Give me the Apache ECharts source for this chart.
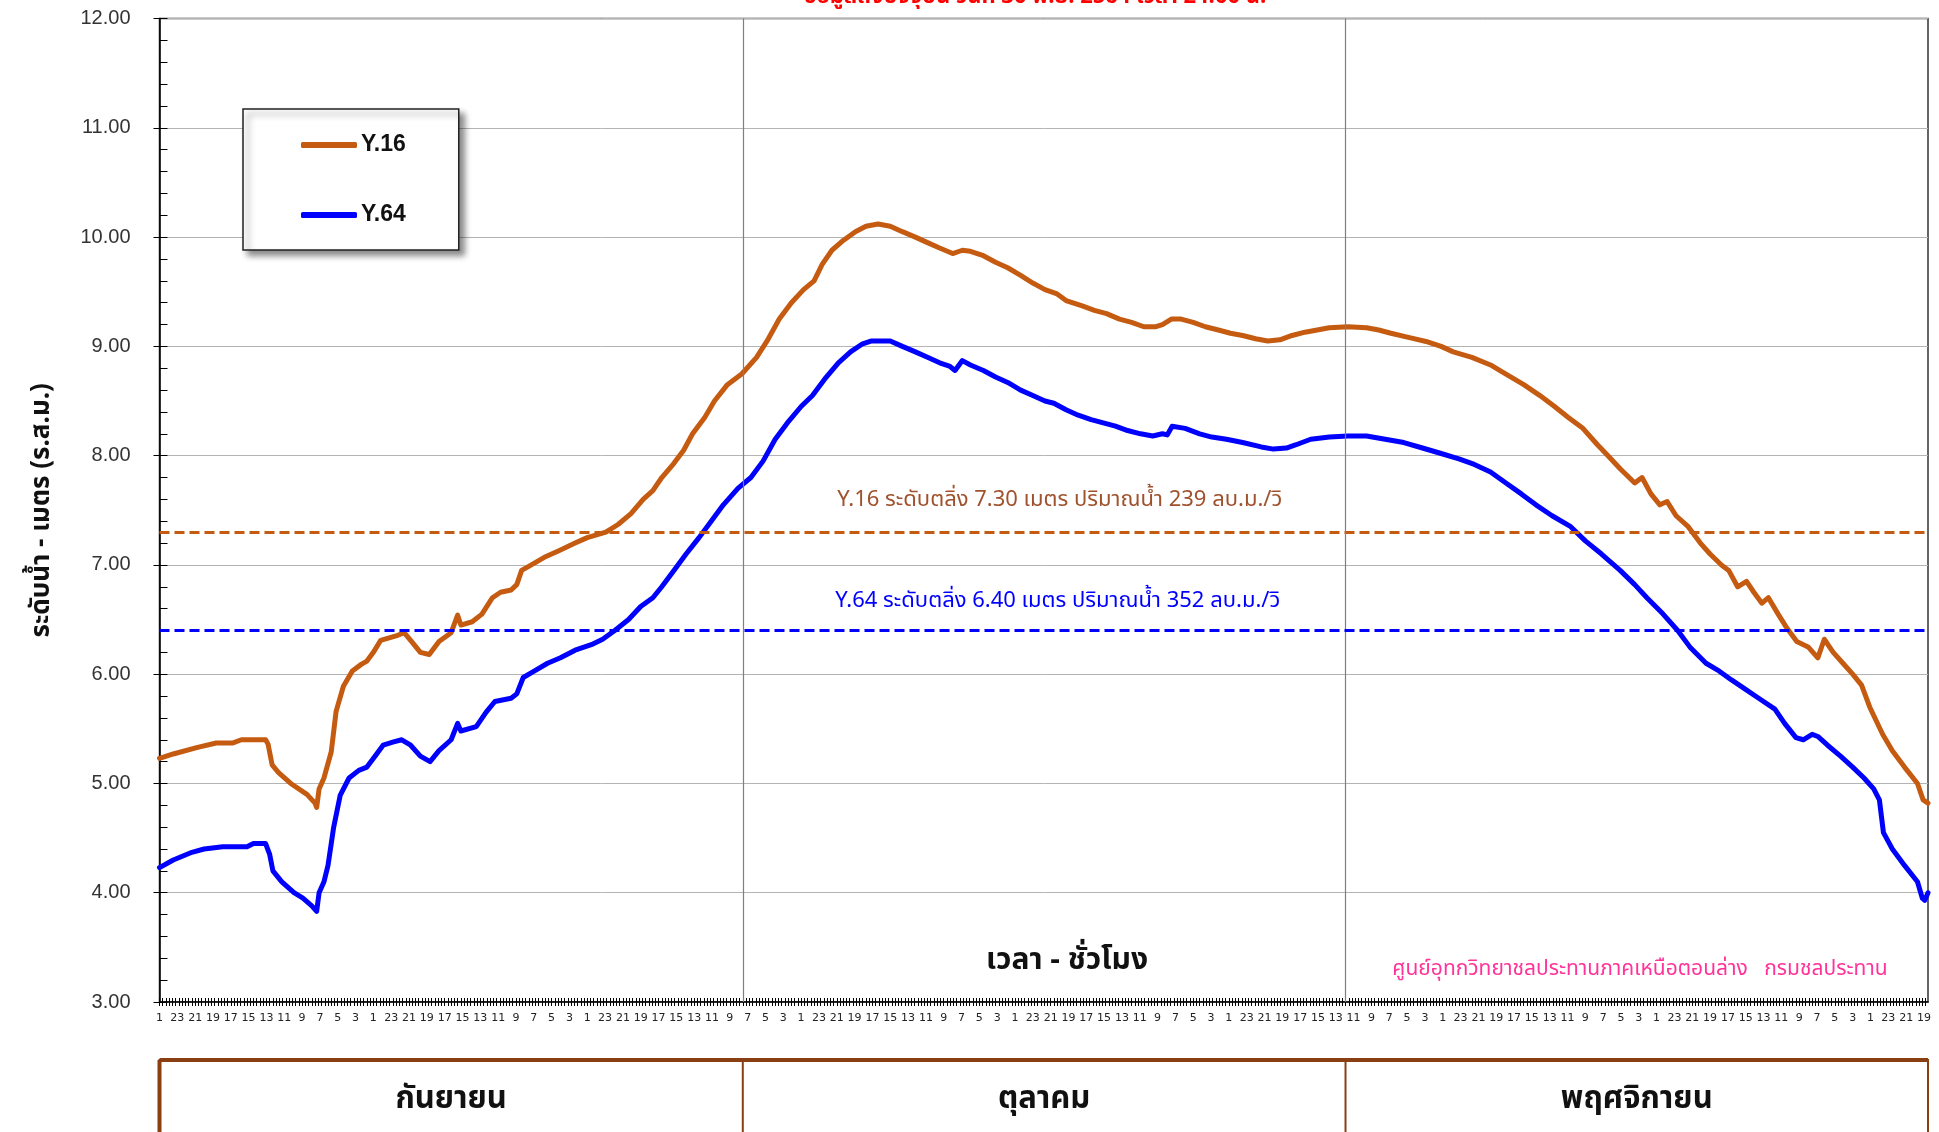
<!DOCTYPE html>
<html><head><meta charset="utf-8">
<script src="https://cdn.jsdelivr.net/npm/echarts@6/dist/echarts.min.js"></script>
<style>html,body{margin:0;padding:0;background:#fff}#c{width:1939px;height:1132px}</style>
</head><body><div id="c"></div>
<script>
// ---- data ----
const monthNames = ['กันยายน', 'ตุลาคม', 'พฤศจิกายน'];
const monthDays = [30, 31, 30];
const hoursPerDay = 24;
const yTicks = [3, 4, 5, 6, 7, 8, 9, 10, 11, 12];
// [hour index from 1 Sep 01:00, water level m (MSL)]
const y16 = [[0,5.23],[17,5.27],[47,5.33],[70,5.37],[90,5.37],[101,5.40],[116,5.40],[131,5.40],[134,5.36],[139,5.17],[147,5.10],[162,5.00],[182,4.90],[192,4.82],[194,4.78],[197,4.95],[203,5.05],[212,5.29],[218,5.66],[227,5.89],[238,6.03],[249,6.09],[256,6.12],[264,6.20],[273,6.31],[292,6.35],[302,6.38],[311,6.30],[322,6.20],[333,6.18],[345,6.30],[360,6.38],[368,6.54],[372,6.45],[386,6.48],[398,6.55],[411,6.70],[421,6.75],[434,6.77],[441,6.82],[447,6.95],[459,7.00],[475,7.07],[493,7.13],[513,7.20],[528,7.25],[551,7.30],[566,7.37],[582,7.47],[597,7.60],[609,7.68],[620,7.80],[635,7.93],[647,8.05],[658,8.20],[673,8.35],[685,8.50],[701,8.65],[719,8.75],[737,8.90],[750,9.05],[765,9.25],[780,9.40],[795,9.52],[808,9.60],[818,9.75],[830,9.88],[844,9.97],[859,10.05],[872,10.10],[887,10.12],[902,10.10],[917,10.05],[933,10.00],[948,9.95],[963,9.90],[979,9.85],[991,9.88],[1001,9.87],[1017,9.83],[1032,9.77],[1047,9.72],[1063,9.65],[1078,9.58],[1093,9.52],[1108,9.48],[1119,9.42],[1139,9.37],[1154,9.33],[1169,9.30],[1185,9.25],[1200,9.22],[1215,9.18],[1230,9.18],[1238,9.20],[1249,9.25],[1261,9.25],[1276,9.22],[1291,9.18],[1307,9.15],[1322,9.12],[1337,9.10],[1353,9.07],[1368,9.05],[1383,9.06],[1398,9.10],[1414,9.13],[1429,9.15],[1444,9.17],[1467,9.18],[1490,9.17],[1505,9.15],[1520,9.12],[1543,9.08],[1566,9.04],[1582,9.00],[1597,8.95],[1620,8.90],[1643,8.83],[1661,8.75],[1684,8.65],[1704,8.55],[1722,8.45],[1739,8.35],[1757,8.25],[1775,8.10],[1788,8.00],[1803,7.88],[1821,7.75],[1830,7.80],[1841,7.65],[1852,7.55],[1861,7.58],[1872,7.45],[1887,7.35],[1902,7.20],[1914,7.10],[1928,7.00],[1937,6.95],[1948,6.80],[1959,6.85],[1968,6.75],[1978,6.65],[1986,6.70],[1998,6.55],[2009,6.42],[2021,6.30],[2035,6.25],[2047,6.15],[2055,6.32],[2066,6.20],[2078,6.10],[2090,6.00],[2101,5.90],[2111,5.70],[2127,5.45],[2139,5.30],[2154,5.15],[2170,5.00],[2177,4.85],[2183,4.82]];
const y64 = [[0,4.23],[17,4.30],[40,4.37],[55,4.40],[78,4.42],[108,4.42],[116,4.45],[131,4.45],[136,4.35],[140,4.20],[151,4.10],[166,4.00],[177,3.95],[188,3.88],[194,3.83],[197,4.00],[203,4.10],[208,4.25],[215,4.60],[223,4.89],[234,5.05],[246,5.12],[256,5.15],[266,5.25],[276,5.35],[289,5.38],[299,5.40],[310,5.35],[322,5.25],[334,5.20],[345,5.30],[360,5.40],[368,5.55],[372,5.48],[391,5.52],[403,5.65],[414,5.75],[434,5.78],[441,5.82],[449,5.97],[463,6.03],[479,6.10],[495,6.15],[513,6.22],[533,6.27],[547,6.32],[562,6.40],[579,6.50],[594,6.62],[609,6.70],[620,6.80],[635,6.95],[650,7.10],[666,7.25],[681,7.40],[696,7.55],[714,7.70],[730,7.80],[745,7.95],[760,8.15],[775,8.30],[792,8.45],[806,8.55],[821,8.70],[838,8.85],[853,8.95],[867,9.02],[879,9.05],[902,9.05],[917,9.00],[933,8.95],[948,8.90],[963,8.85],[975,8.82],[982,8.78],[991,8.87],[1001,8.83],[1017,8.78],[1032,8.72],[1047,8.67],[1063,8.60],[1078,8.55],[1093,8.50],[1104,8.48],[1119,8.42],[1134,8.37],[1150,8.33],[1165,8.30],[1180,8.27],[1195,8.23],[1211,8.20],[1226,8.18],[1238,8.20],[1244,8.19],[1250,8.27],[1266,8.25],[1284,8.20],[1299,8.17],[1317,8.15],[1337,8.12],[1360,8.08],[1375,8.06],[1391,8.07],[1403,8.10],[1421,8.15],[1444,8.17],[1467,8.18],[1490,8.18],[1513,8.15],[1536,8.12],[1559,8.07],[1582,8.02],[1604,7.97],[1623,7.92],[1643,7.85],[1662,7.75],[1681,7.65],[1699,7.55],[1719,7.45],[1742,7.35],[1760,7.22],[1780,7.10],[1803,6.95],[1821,6.82],[1836,6.70],[1856,6.55],[1874,6.40],[1889,6.25],[1909,6.10],[1925,6.03],[1940,5.95],[1956,5.87],[1974,5.78],[1994,5.68],[2006,5.55],[2020,5.42],[2029,5.40],[2040,5.45],[2047,5.43],[2059,5.35],[2075,5.25],[2090,5.15],[2104,5.05],[2116,4.95],[2123,4.85],[2128,4.55],[2139,4.40],[2154,4.25],[2170,4.10],[2176,3.95],[2179,3.93],[2183,4.00]];
const stations = ['Y.16', 'Y.64'];
const bankLevels = [7.30, 6.40];
const bankFlows = [239, 352];
const titleText = 'ข้อมูลถึงปัจจุบัน วันที่ 30 พ.ย. 2564 เวลา 24.00 น.';
const xName = 'เวลา - ชั่วโมง';
const yName = 'ระดับน้ำ - เมตร (ร.ส.ม.)';
const credit = 'ศูนย์อุทกวิทยาชลประทานภาคเหนือตอนล่าง   กรมชลประทาน';

// hourly categories (hour of day 1..24)
const categories = [];
monthDays.forEach(d => { for (let day = 0; day < d; day++) for (let h = 1; h <= hoursPerDay; h++) categories.push(String(h)); });
const monthStart = [0]; monthDays.forEach((d, i) => monthStart.push(monthStart[i] + d * hoursPerDay));

const ORANGE = '#c55a11', BLUE = '#0000ff';
const thaiFont = 'Tahoma, "Noto Sans Thai", "Noto Sans Thai UI", "Liberation Sans", sans-serif';

const chart = echarts.init(document.getElementById('c'));
const gridL = 159.5, gridR = 11, gridT = 18.6, gridB = 130;
const option = {
  animation: false,
  backgroundColor: '#fff',
  grid: { left: gridL, right: gridR, top: gridT, bottom: gridB, show: true, borderColor: '#333', borderWidth: 1.5 },
  legend: {
    orient: 'vertical', left: 243, top: 109,
    data: stations,
    icon: 'roundRect', itemWidth: 56, itemHeight: 6, itemGap: 46,
    padding: [24, 53, 23, 58],
    backgroundColor: '#fff', borderColor: '#222', borderWidth: 1.5,
    shadowColor: 'rgba(0,0,0,0.45)', shadowBlur: 6, shadowOffsetX: 5, shadowOffsetY: 5,
    textStyle: { fontFamily: 'Liberation Sans, Arial, sans-serif', fontWeight: 'bold', fontSize: 23, lineHeight: 24, color: '#111', padding: [0, 0, 0, -1] }
  },
  xAxis: [{
    type: 'category', data: categories, boundaryGap: false,
    axisLine: { lineStyle: { color: '#000', width: 1.5 } },
    axisTick: { show: true, interval: 3, length: 4, lineStyle: { color: '#000' } },
    axisLabel: { interval: 21, fontSize: 11, color: '#222', margin: 11, fontFamily: 'Tahoma, "DejaVu Sans", sans-serif' },
    splitLine: { show: false }
  }, {
    type: 'category', data: categories, boundaryGap: false, position: 'bottom',
    axisLine: { show: false },
    axisTick: { show: true, inside: true, interval: 3, length: 4, lineStyle: { color: '#000' } },
    axisLabel: { show: false }, splitLine: { show: false }
  }],
  yAxis: [{
    type: 'value', min: yTicks[0], max: yTicks[yTicks.length - 1], interval: 1,
    axisLine: { show: true, lineStyle: { color: '#000', width: 1.5 } },
    axisTick: { show: true, length: 6, lineStyle: { color: '#000' } },
    axisLabel: { formatter: v => v.toFixed(2), fontSize: 20, color: '#333', margin: 29, fontFamily: 'Liberation Sans, Arial, sans-serif' },
    splitLine: { show: true, lineStyle: { color: '#b4b4b4', width: 1 } },
    name: yName, nameLocation: 'middle', nameRotate: 90, nameGap: 103,
    nameTextStyle: { fontSize: 26, fontWeight: 'bold', color: '#111', fontFamily: thaiFont }
  }, {
    type: 'value', min: yTicks[0], max: yTicks[yTicks.length - 1], interval: 0.2, position: 'left',
    axisLine: { show: false }, axisTick: { show: true, inside: true, length: 8, lineStyle: { color: '#000' } },
    axisLabel: { show: false }, splitLine: { show: false }
  }],
  series: [
    {
      name: stations[0], type: 'line', data: y16, showSymbol: false, symbol: 'none', color: ORANGE, z: 4,
      lineStyle: { color: ORANGE, width: 5, cap: 'round', join: 'round' },
      markLine: {
        silent: true, symbol: 'none', animation: false,
        data: [
          { yAxis: bankLevels[0], lineStyle: { color: ORANGE, width: 3, type: [10, 5] },
            label: { show: true, position: 'middle', distance: 20, offset: [16, 0], formatter: `${stations[0]} ระดับตลิ่ง ${bankLevels[0].toFixed(2)} เมตร ปริมาณน้ำ ${bankFlows[0]} ลบ.ม./วิ`, color: '#a0522d', fontSize: 22, fontFamily: thaiFont } },
          { xAxis: monthStart[1], lineStyle: { color: '#7f7f7f', width: 1.2, type: 'solid' }, label: { show: false } },
          { xAxis: monthStart[2], lineStyle: { color: '#7f7f7f', width: 1.2, type: 'solid' }, label: { show: false } }
        ]
      }
    },
    {
      name: stations[1], type: 'line', data: y64, showSymbol: false, symbol: 'none', color: BLUE, z: 4,
      lineStyle: { color: BLUE, width: 5, cap: 'round', join: 'round' },
      markLine: {
        silent: true, symbol: 'none', animation: false,
        data: [
          { yAxis: bankLevels[1], lineStyle: { color: BLUE, width: 3, type: [10, 5] },
            label: { show: true, position: 'middle', distance: 17, offset: [14, 0], formatter: `${stations[1]} ระดับตลิ่ง ${bankLevels[1].toFixed(2)} เมตร ปริมาณน้ำ ${bankFlows[1]} ลบ.ม./วิ`, color: BLUE, fontSize: 22, fontFamily: thaiFont } }
        ]
      }
    }
  ]
};
chart.setOption(option);

// annotations and month table tied to the axis scale
const px = i => chart.convertToPixel({ xAxisIndex: 0 }, i);
const xL = px(0), xR = px(categories.length - 1);
const bounds = [xL, px(monthStart[1]), px(monthStart[2]), xR];
const tableTop = 1060;
const graphics = [
  { type: 'text', style: { text: titleText, x: 1035, y: 10, align: 'center', verticalAlign: 'bottom', fill: '#ff0000', font: 'bold 22px ' + thaiFont }, z: 10 },
  { type: 'text', style: { text: xName, x: 1067, y: 963, align: 'center', verticalAlign: 'middle', fill: '#111', font: 'bold 30px ' + thaiFont }, z: 10 },
  { type: 'text', style: { text: credit, x: 1640, y: 971, align: 'center', verticalAlign: 'middle', fill: '#ff3399', font: '21px ' + thaiFont }, z: 10 },
  { type: 'rect', shape: { x: bounds[0], y: tableTop, width: bounds[3] - bounds[0], height: 120 }, style: { fill: '#fff', stroke: '#8a3f12', lineWidth: 2 } },
  { type: 'line', shape: { x1: bounds[0], y1: tableTop, x2: bounds[3], y2: tableTop }, style: { stroke: '#8a3f12', lineWidth: 4 } },
  { type: 'line', shape: { x1: bounds[0], y1: tableTop, x2: bounds[0], y2: 1140 }, style: { stroke: '#8a3f12', lineWidth: 4 } }
];
for (let m = 0; m < monthNames.length; m++) {
  if (m > 0) graphics.push({ type: 'line', shape: { x1: bounds[m], y1: tableTop, x2: bounds[m], y2: 1140 }, style: { stroke: '#8a3f12', lineWidth: 2 } });
  graphics.push({ type: 'text', style: { text: monthNames[m], x: (bounds[m] + bounds[m + 1]) / 2, y: 1102, align: 'center', verticalAlign: 'middle', fill: '#111', font: 'bold 31px ' + thaiFont }, z: 10 });
}
chart.setOption({ graphic: graphics });
</script></body></html>
